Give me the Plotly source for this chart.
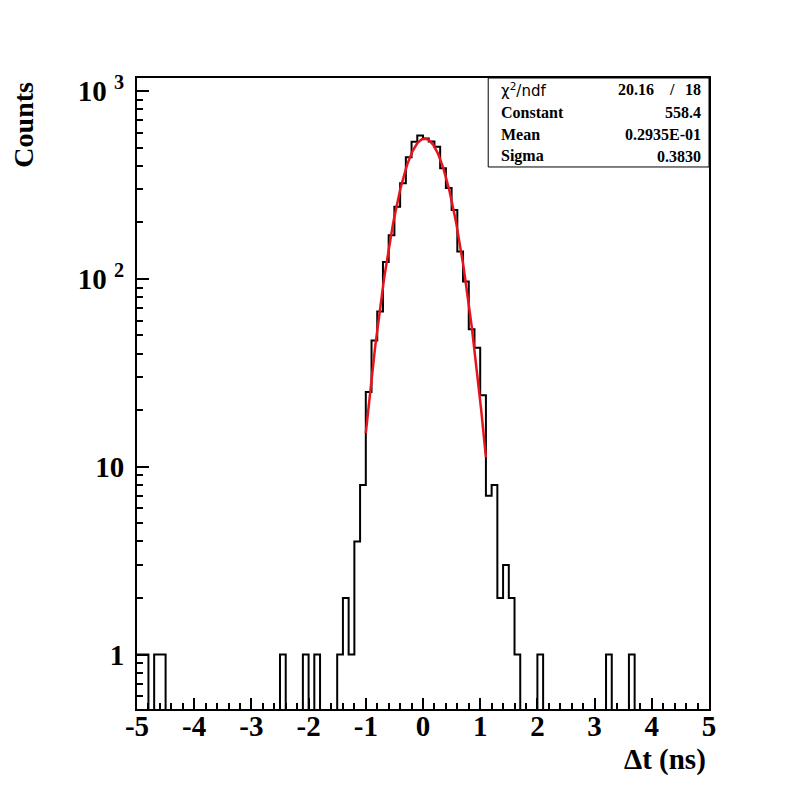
import numpy as np
import plotly.graph_objects as go

# histogram of time differences, 100 bins of 0.1 ns from -5 to 5
bin_lo = -5.0
bin_width = 0.1
counts = [1, 1, 0, 1, 1, 0, 0, 0, 0, 0,
          0, 0, 0, 0, 0, 0, 0, 0, 0, 0,
          0, 0, 0, 0, 0, 1, 0, 0, 0, 1,
          0, 1, 0, 0, 0, 1, 2, 1, 4, 8,
          25, 47, 67, 123, 171, 242, 323, 445, 537, 580,
          560, 540, 506, 388, 305, 233, 140, 97, 54, 43,
          24, 7, 8, 2, 3, 2, 1, 0, 0, 0,
          1, 0, 0, 0, 0, 0, 0, 0, 0, 0,
          0, 0, 1, 0, 0, 0, 1, 0, 0, 0,
          0, 0, 0, 0, 0, 0, 0, 0, 0, 0]

# gaussian fit result (stat box)
fit_const = 558.4
fit_mean = 0.2935e-01
fit_sigma = 0.3830
fit_range = (-1.0, 1.1)
chi2, ndf = 20.16, 18

x_ticks = [-5, -4, -3, -2, -1, 0, 1, 2, 3, 4, 5]
y_ticks = [1, 10, 100, 1000]
y_ticktext = ['1', '10', '10 <sup>2</sup>', '10 <sup>3</sup>']

counts = np.array(counts, dtype=float)
edges = bin_lo + bin_width * np.arange(len(counts) + 1)
# empty bins go below the frame so the step drops to the bottom edge
y_step = np.where(counts > 0, counts, 1e-3)
y_step = np.append(y_step, y_step[-1])

xf = np.linspace(fit_range[0], fit_range[1], 200)
yf = fit_const * np.exp(-0.5 * ((xf - fit_mean) / fit_sigma) ** 2)

fig = go.Figure()
fig.add_trace(go.Scatter(x=edges, y=y_step, mode='lines', line_shape='hv',
                         line=dict(color='black', width=2), hoverinfo='skip'))
fig.add_trace(go.Scatter(x=xf, y=yf, mode='lines',
                         line=dict(color='#e8141c', width=2.5)))

minor_y = [0.6, 0.7, 0.8, 0.9] + [m * 10 ** d for d in range(3) for m in range(2, 10)]

serif = 'Liberation Serif'
# page body adds 8px offset, so margins are shifted by 8px
fig.update_layout(
    width=788, height=788,
    margin=dict(l=129, r=87, t=70, b=87),
    paper_bgcolor='white', plot_bgcolor='white',
    showlegend=False,
    xaxis=dict(range=[-5, 5], showgrid=False, zeroline=False,
               showline=True, mirror=True, linecolor='black', linewidth=2,
               ticks='inside', ticklen=11, tickwidth=2, tickcolor='black',
               tickmode='array', tickvals=x_ticks,
               ticktext=[str(v) for v in x_ticks],
               ticklabelstandoff=-10,
               tickfont=dict(family=serif, size=29, color='black', weight='bold'),
               minor=dict(dtick=0.2, tick0=0, ticks='inside', ticklen=6,
                          tickwidth=2, tickcolor='black', showgrid=False)),
    yaxis=dict(type='log', range=[-0.29, 3.07], showgrid=False, zeroline=False,
               showline=True, mirror=True, linecolor='black', linewidth=2,
               ticks='inside', ticklen=12, tickwidth=2, tickcolor='black',
               tickmode='array', tickvals=y_ticks, ticktext=y_ticktext,
               ticklabelstandoff=5,
               tickfont=dict(family=serif, size=29, color='black', weight='bold'),
               minor=dict(tickmode='array', tickvals=minor_y, ticks='inside',
                          ticklen=6, tickwidth=2, tickcolor='black', showgrid=False)),
)

# axis titles
fig.add_annotation(text='Counts', xref='paper', yref='paper', x=-0.198, y=0.997,
                   xanchor='center', yanchor='top', textangle=-90, showarrow=False,
                   font=dict(family=serif, size=28, color='black', weight='bold'))
fig.add_annotation(text='Δt (ns)', xref='paper', yref='paper', x=0.998, y=-0.08,
                   xanchor='right', yanchor='middle', showarrow=False,
                   font=dict(family=serif, size=29, color='black', weight='bold'))

# stat box
fig.add_shape(type='rect', xref='paper', yref='paper', x0=0.614, x1=1.0, y0=0.859, y1=1.0,
              line=dict(color='black', width=1), fillcolor='white', layer='above')
rows = [('Constant', f'{fit_const:.1f}'),
        ('Mean', '0.2935E-01'),
        ('Sigma', f'{fit_sigma:.4f}')]
row_y = [0.981, 0.946, 0.911, 0.876]
fig.add_annotation(text='χ<sup>2</sup>/ndf', xref='paper', yref='paper', x=0.633, y=row_y[0],
                   xanchor='left', yanchor='middle', showarrow=False,
                   font=dict(family='DejaVu Sans', size=15, color='black'))
fig.add_annotation(text=f'{chi2:.2f}', xref='paper', yref='paper', x=0.908, y=row_y[0],
                   xanchor='right', yanchor='middle', showarrow=False,
                   font=dict(family=serif, size=16, color='black', weight='bold'))
fig.add_annotation(text='/', xref='paper', yref='paper', x=0.935, y=row_y[0],
                   xanchor='center', yanchor='middle', showarrow=False,
                   font=dict(family=serif, size=16, color='black', weight='bold'))
fig.add_annotation(text=str(ndf), xref='paper', yref='paper', x=0.990, y=row_y[0],
                   xanchor='right', yanchor='middle', showarrow=False,
                   font=dict(family=serif, size=16, color='black', weight='bold'))
for (label, val), yy in zip(rows, row_y[1:]):
    fig.add_annotation(text=label, xref='paper', yref='paper', x=0.633, y=yy,
                       xanchor='left', yanchor='middle', showarrow=False,
                       font=dict(family=serif, size=16, color='black', weight='bold'))
    fig.add_annotation(text=val, xref='paper', yref='paper', x=0.990, y=yy,
                       xanchor='right', yanchor='middle', showarrow=False,
                       font=dict(family=serif, size=16, color='black', weight='bold'))

fig.write_html('out.html')
